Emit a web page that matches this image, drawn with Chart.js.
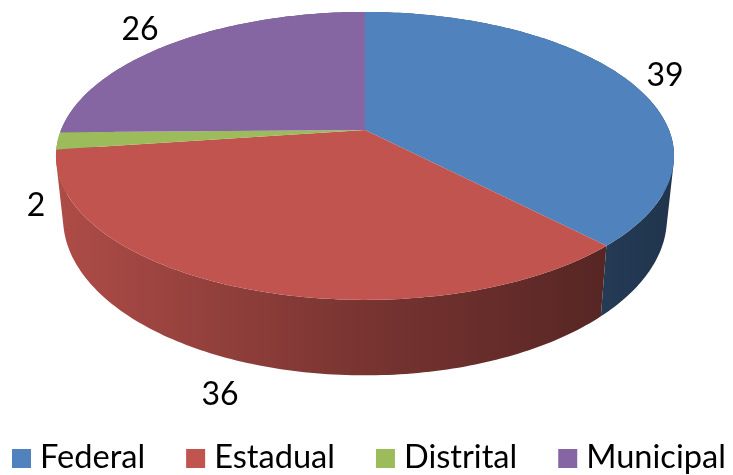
<!DOCTYPE html>
<html>
<head>
<meta charset="utf-8">
<style>
  html, body { margin: 0; padding: 0; background: #fff; }
  canvas { display: block; }
</style>
<script src="https://cdn.jsdelivr.net/npm/chart.js@4"></script>
</head>
<body>
<canvas id="chart" width="733" height="475"></canvas>
<script>
const categories = ['Federal', 'Estadual', 'Distrital', 'Municipal'];
const values = [39, 36, 2, 26];
const colors = ['#5082bd', '#c1544f', '#9cbb5b', '#8566a3'];

// where each value label sits, relative to the pie centre
const labelOffsets = [[300, -54], [-145, 265], [-329, 76], [-225, -100]];

// perspective of the tilted disc: top face and the bottom rim under it
const tilt = 0.18;
const topPlane = { x: 365, y: 130, a: 304, b: 139.3 };
const bottomPlane = { x: 365, y: 190, a: 297, b: 152 };

const project = (plane, angle) => {
  const w = 1 - tilt * Math.sin(angle);
  return [plane.x + plane.a * Math.cos(angle) / w, plane.y + plane.b * Math.sin(angle) / w];
};

const shade = (hex, f) => {
  const n = parseInt(hex.slice(1), 16);
  return `rgb(${Math.round((n >> 16) * f)}, ${Math.round(((n >> 8) & 255) * f)}, ${Math.round((n & 255) * f)})`;
};

const arcSteps = (arc) => {
  const n = Math.max(4, Math.ceil((arc.endAngle - arc.startAngle) * 60));
  const out = [];
  for (let i = 0; i <= n; i++) out.push(arc.startAngle + (arc.endAngle - arc.startAngle) * i / n);
  return out;
};

// all quads of one slice wall go in one path, wound the same way, so no seams show
const addQuad = (ctx, p) => {
  let area = 0;
  p.forEach((q, k) => {
    const r = p[(k + 1) % 4];
    area += q[0] * r[1] - r[0] * q[1];
  });
  const pts = area < 0 ? p.slice().reverse() : p;
  pts.forEach((q, k) => k ? ctx.lineTo(q[0], q[1]) : ctx.moveTo(q[0], q[1]));
  ctx.closePath();
};

const drawWalls = (ctx, arcs) => {
  // back to front, the slice nearest the viewer goes last
  const midSin = (arc) => Math.sin((arc.startAngle + arc.endAngle) / 2);
  const order = arcs.map((arc, i) => i).sort((m, n) => midSin(arcs[m]) - midSin(arcs[n]));
  order.forEach((i) => {
    const grad = ctx.createLinearGradient(57, 0, 675, 0);
    grad.addColorStop(0, shade(colors[i], 0.9));
    grad.addColorStop(0.5, shade(colors[i], 0.62));
    grad.addColorStop(1, shade(colors[i], 0.4));
    ctx.fillStyle = grad;
    const steps = arcSteps(arcs[i]);
    ctx.beginPath();
    for (let s = 0; s < steps.length - 1; s++) {
      addQuad(ctx, [
        project(topPlane, steps[s]), project(topPlane, steps[s + 1]),
        project(bottomPlane, steps[s + 1]), project(bottomPlane, steps[s])
      ]);
    }
    ctx.fill();
  });
};

const drawFaces = (ctx, arcs) => {
  arcs.forEach((arc, i) => {
    ctx.fillStyle = colors[i];
    ctx.beginPath();
    ctx.moveTo(topPlane.x, topPlane.y);
    arcSteps(arc).forEach((a) => {
      const q = project(topPlane, a);
      ctx.lineTo(q[0], q[1]);
    });
    ctx.closePath();
    ctx.fill();
  });
};

const drawLabels = (ctx) => {
  ctx.fillStyle = '#000';
  ctx.font = '32px Lato';
  ctx.textAlign = 'center';
  ctx.textBaseline = 'middle';
  values.forEach((v, i) => {
    ctx.fillText(String(v), topPlane.x + labelOffsets[i][0], topPlane.y + labelOffsets[i][1]);
  });
};

// the built-in legend keeps too wide a gap between box and text for this size
const drawLegend = (ctx) => {
  ctx.font = '32.6px Lato';
  ctx.textAlign = 'left';
  ctx.textBaseline = 'alphabetic';
  let x = 12;
  categories.forEach((name, i) => {
    ctx.fillStyle = colors[i];
    ctx.fillRect(x, 449, 19, 19);
    ctx.fillStyle = '#000';
    ctx.fillText(name, x + 28, 468);
    x += 28 + ctx.measureText(name).width + 41;
  });
};

const pie3d = {
  id: 'pie3d',
  // the arcs keep their angles from the chart, only the painting is replaced
  beforeDatasetDraw(chart) {
    const ctx = chart.ctx;
    const arcs = chart.getDatasetMeta(0).data;
    ctx.save();
    drawWalls(ctx, arcs);
    drawFaces(ctx, arcs);
    drawLabels(ctx);
    drawLegend(ctx);
    ctx.restore();
    return false;
  }
};

new Chart(document.getElementById('chart'), {
  type: 'pie',
  data: {
    labels: categories,
    datasets: [{ data: values, backgroundColor: colors, borderWidth: 0 }]
  },
  options: {
    responsive: false,
    animation: false,
    plugins: {
      tooltip: { enabled: false },
      legend: { display: false }
    }
  },
  plugins: [pie3d]
});
</script>
</body>
</html>
